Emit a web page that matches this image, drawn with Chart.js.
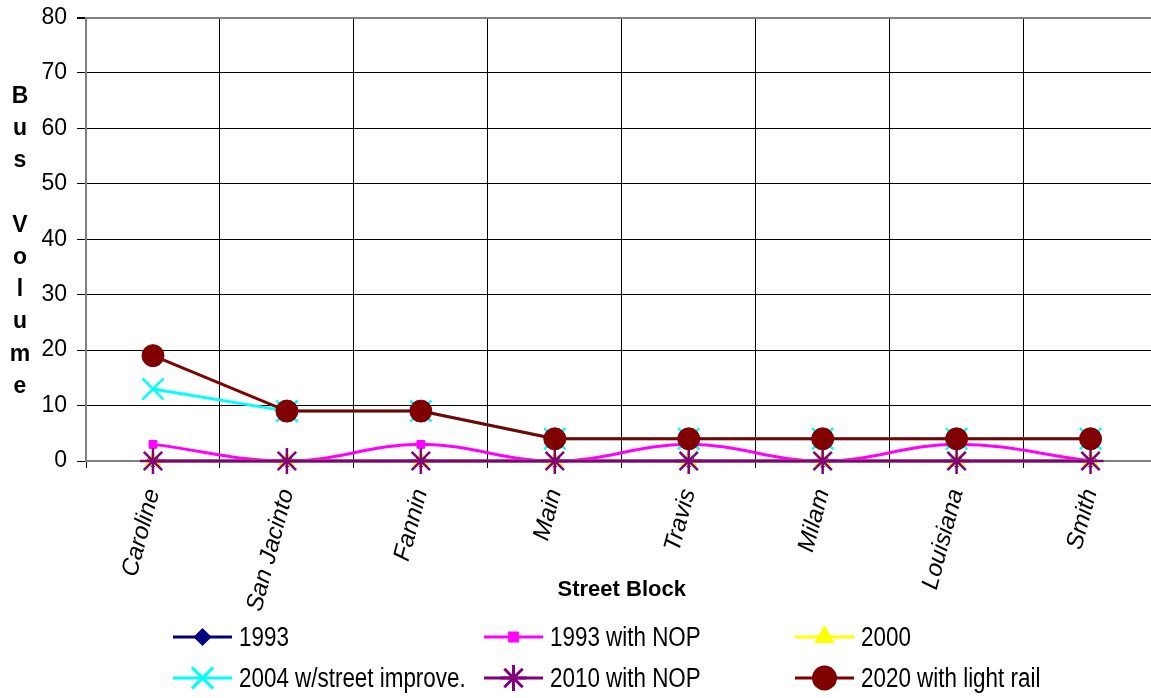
<!DOCTYPE html>
<html>
<head>
<meta charset="utf-8">
<script src="https://cdn.jsdelivr.net/npm/chart.js@4.4.1/dist/chart.umd.min.js"></script>
<style>
  html, body { margin: 0; padding: 0; background: #fff; overflow: hidden; }
  #wrap { position: relative; width: 1151px; height: 698px; overflow: hidden; }
  #chart { position: absolute; left: 0; top: 0; }
  #ytitle {
    position: absolute; left: 0; top: 79px; width: 40px;
    font: bold 23px "Liberation Sans", Arial, sans-serif;
    line-height: 32.2px; text-align: center; color: #000;
  }
  .leg { position: absolute; height: 40px; display: flex; align-items: center;
         font: 27px "Liberation Sans", Arial, sans-serif; color: #000; white-space: nowrap; }
  .leg canvas { margin-right: 7px; }
  .leg span { display: inline-block; transform: scaleX(0.83); transform-origin: left center; }
</style>
</head>
<body>
<div id="wrap">
  <canvas id="chart" width="1175" height="698"></canvas>
  <div id="ytitle"></div>
  <div id="legend"></div>
</div>
<script>
// Street blocks and bus volumes per scenario
const blocks = ['Caroline', 'San Jacinto', 'Fannin', 'Main', 'Travis', 'Milam', 'Louisiana', 'Smith'];
const vol1993 = [0, 0, 0, 0, 0, 0, 0, 0];
const vol1993Nop = [3, 0, 3, 0, 3, 0, 3, 0];
const vol2000 = [0, 0, 0, 0, 0, 0, 0, 0];
const vol2004 = [13, 9, 9, 4, 4, 4, 4, 4];
const vol2010Nop = [0, 0, 0, 0, 0, 0, 0, 0];
const vol2020 = [19, 9, 9, 4, 4, 4, 4, 4];
const yMin = 0, yMax = 80, yStep = 10;
const yTitle = ['B', 'u', 's', '', 'V', 'o', 'l', 'u', 'm', 'e'];

const series = [
    { label: '1993', data: vol1993, color: '#000080', style: 'rectRot', r: 7, bw: 1, tension: 0 },
    { label: '1993 with NOP', data: vol1993Nop, color: '#FF00FF', style: 'rect', r: 5.5, bw: 1, tension: 0.4 },
    { label: '2000', data: vol2000, color: '#FFFF00', style: 'triangle', r: 9, bw: 1, tension: 0 },
    { label: '2004 w/street improve.', data: vol2004, color: '#00FFFF', style: 'crossRot', r: 15, bw: 2.5, tension: 0 },
    { label: '2010 with NOP', data: vol2010Nop, color: '#800080', style: 'star', r: 13, bw: 2.5, tension: 0 },
    { label: '2020 with light rail', data: vol2020, color: '#800000', style: 'circle', r: 11, bw: 1, tension: 0 }
];

Chart.defaults.font.family = '"Liberation Sans", Arial, sans-serif';
Chart.defaults.color = '#000';

const datasets = series.map((s, i) => ({
    label: s.label,
    data: s.data,
    borderColor: s.color,
    backgroundColor: s.color,
    borderWidth: 3,
    tension: s.tension,
    pointStyle: s.style,
    pointRadius: s.r,
    pointHoverRadius: s.r,
    pointBorderWidth: s.bw,
    pointBackgroundColor: s.color,
    pointBorderColor: s.color,
    order: series.length - i,
    clip: false
}));

new Chart(document.getElementById('chart'), {
    type: 'line',
    data: { labels: blocks, datasets: datasets },
    options: {
        responsive: false,
        animation: false,
        events: [],
        layout: { padding: { top: 17, right: 3, left: 0, bottom: 80 } },
        plugins: { legend: { display: false }, tooltip: { enabled: false } },
        scales: {
            x: {
                offset: true,
                grid: { offset: true, color: '#000', lineWidth: 1, tickLength: 7, tickColor: '#000' },
                border: { color: '#808080', width: 2 },
                ticks: {
                    font: { size: 24, style: 'italic' },
                    minRotation: 75, maxRotation: 75, padding: 18
                },
                title: {
                    display: true, text: 'Street Block',
                    font: { size: 22, weight: 'bold' },
                    padding: { top: 0, bottom: 15 }
                },
                afterFit: scale => {
                    scale.height = 157;
                    scale.paddingLeft = 0; scale.paddingRight = 0;
                }
            },
            y: {
                min: yMin, max: yMax,
                grid: {
                    color: ctx => ctx.tick && ctx.tick.value === yMax ? '#808080' : '#000',
                    lineWidth: ctx => ctx.tick && ctx.tick.value === yMax ? 2 : 1,
                    tickLength: 9, tickColor: '#000'
                },
                border: { color: '#808080', width: 2 },
                ticks: { stepSize: yStep, font: { size: 23 }, padding: 10 },
                afterFit: scale => {
                    scale.width = 86;
                    scale.paddingTop = 0; scale.paddingBottom = 0;
                }
            }
        }
    }
});

// vertical axis title, one letter per line
document.getElementById('ytitle').innerHTML = yTitle.map(c => '<div>' + (c || '&nbsp;') + '</div>').join('');

// legend: 3 columns, 2 rows
const legendEl = document.getElementById('legend');
const colX = [173, 484, 795];
const rowY = [617, 658];
series.forEach((s, i) => {
    const item = document.createElement('div');
    item.className = 'leg';
    item.style.left = colX[i % 3] + 'px';
    item.style.top = rowY[Math.floor(i / 3)] + 'px';
    const c = document.createElement('canvas');
    c.width = 59; c.height = 40;
    const ctx = c.getContext('2d');
    ctx.strokeStyle = s.color;
    ctx.lineWidth = 3;
    ctx.beginPath(); ctx.moveTo(0, 20); ctx.lineTo(59, 20); ctx.stroke();
    ctx.fillStyle = s.color;
    Chart.helpers.drawPoint(ctx, { pointStyle: s.style, radius: s.r, borderWidth: s.bw, rotation: 0 }, 29.5, 20);
    const t = document.createElement('span');
    t.textContent = s.label;
    item.appendChild(c);
    item.appendChild(t);
    legendEl.appendChild(item);
});
</script>
</body>
</html>
